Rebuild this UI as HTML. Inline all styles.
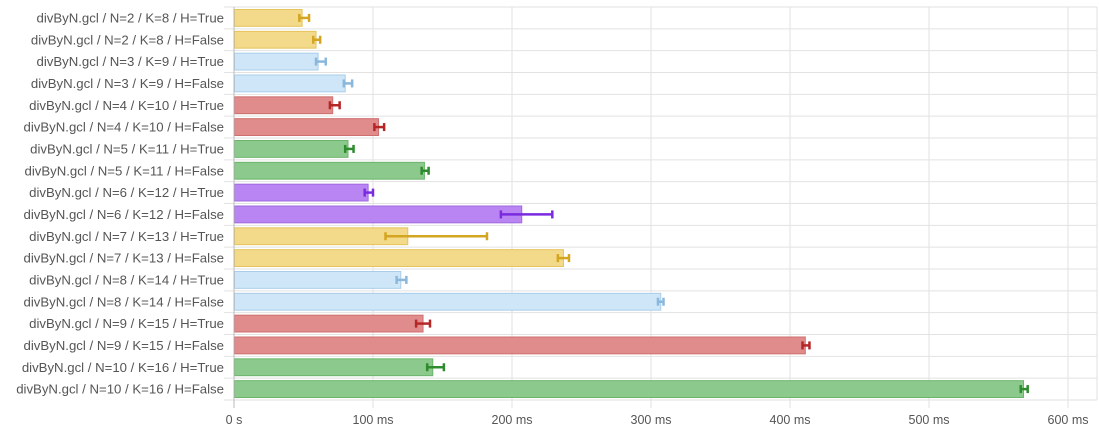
<!DOCTYPE html>
<html><head><meta charset="utf-8"><style>
body{margin:0;background:#fff;font-family:"Liberation Sans",sans-serif;}
svg text{font-family:"Liberation Sans",sans-serif;font-size:13.2px;fill:#555;}
svg text.tick{font-size:12.5px;}
</style></head><body>
<svg id="chart" width="1099" height="434" xmlns="http://www.w3.org/2000/svg"></svg>
<script>
const categories=["divByN.gcl / N=2 / K=8 / H=True","divByN.gcl / N=2 / K=8 / H=False","divByN.gcl / N=3 / K=9 / H=True","divByN.gcl / N=3 / K=9 / H=False","divByN.gcl / N=4 / K=10 / H=True","divByN.gcl / N=4 / K=10 / H=False","divByN.gcl / N=5 / K=11 / H=True","divByN.gcl / N=5 / K=11 / H=False","divByN.gcl / N=6 / K=12 / H=True","divByN.gcl / N=6 / K=12 / H=False","divByN.gcl / N=7 / K=13 / H=True","divByN.gcl / N=7 / K=13 / H=False","divByN.gcl / N=8 / K=14 / H=True","divByN.gcl / N=8 / K=14 / H=False","divByN.gcl / N=9 / K=15 / H=True","divByN.gcl / N=9 / K=15 / H=False","divByN.gcl / N=10 / K=16 / H=True","divByN.gcl / N=10 / K=16 / H=False"];
const values=[49,59,60.5,80,71,104,82,137,96.5,207,125,237,120,307,136,411,143,568];
const errLow=[47,57,59,79,69,101,80,135,94,192,109,233,117,305,131,409,139,566];
const errHigh=[54,62,66,85,76,108,86,140,100,229,182,241,124,309,141,414,151,571];
const ticks=[0,100,200,300,400,500,600];
const tickLabels=["0 s","100 ms","200 ms","300 ms","400 ms","500 ms","600 ms"];
const palette=[["#f3d98a","#e6c35c","#d4a520"],["#cfe6f8","#a9cde9","#8ab8dc"],["#e08c8c","#cf6e6e","#b52727"],["#8cc98c","#6bb46b","#2e8b2e"],["#b985f2","#a06ae0","#7a2be0"]];
const svg=document.getElementById('chart');
const NS="http://www.w3.org/2000/svg";
const x0=234,pxPer=1.39,plotTop=7,plotBottom=400;
const band=(plotBottom-plotTop)/categories.length;
const X=v=>x0+v*pxPer;
const Y=i=>plotTop+i*band;
function mk(t,a,p){const e=document.createElementNS(NS,t);for(const k in a)e.setAttribute(k,a[k]);(p||svg).appendChild(e);return e;}
ticks.forEach((t,i)=>{
 const g=mk('line',{x1:X(t),x2:X(t),y1:plotTop,y2:plotBottom+8,stroke:i===0?'#bbb':'#e2e2e2'});
 
 
 const tx=mk('text',{x:X(t),y:424,'text-anchor':'middle','class':'tick'});tx.textContent=tickLabels[i];
 
 
});
mk('line',{x1:1097,x2:1097,y1:plotTop,y2:plotBottom,stroke:'#e2e2e2'});
mk('line',{x1:x0,x2:1097,y1:plotTop,y2:plotTop,stroke:'#bbb'});
for(let i=0;i<=categories.length;i++){
 const l=mk('line',{x1:224,x2:1097,y1:Y(i),y2:Y(i),stroke:'#e2e2e2'});
 
 
}
categories.forEach((c,i)=>{
 const p=palette[Math.floor(i/2)%5];
 const t=mk('text',{x:224,y:Y(i)+band/2+4.5,'text-anchor':'end'});t.textContent=c;
 
 
 const r=mk('rect',{x:x0+0.5,y:Y(i)+2.5,width:X(values[i])-x0-0.5,height:band-5,fill:p[0],stroke:p[1],'stroke-width':1});
 
 
 const cy=Y(i)+band/2,a=X(errLow[i]),b=X(errHigh[i]);
 const g=mk('g',{stroke:p[2],'stroke-width':2.5});
 
 
 mk('line',{x1:a,x2:b,y1:cy,y2:cy},g);
 mk('line',{x1:a,x2:a,y1:cy-4,y2:cy+4},g);
 mk('line',{x1:b,x2:b,y1:cy-4,y2:cy+4},g);
});
mk('line',{x1:x0,x2:x0,y1:plotTop,y2:plotBottom+8,stroke:'#bbb'});
</script>
</body></html>
